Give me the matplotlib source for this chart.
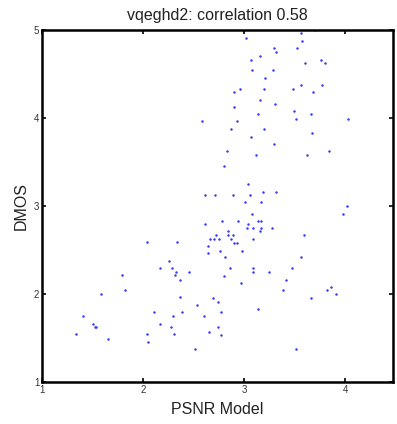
import matplotlib
matplotlib.use("Agg")
import matplotlib.pyplot as plt

plt.rcParams['font.family'] = ['Liberation Sans', 'DejaVu Sans']

title = "vqeghd2: correlation 0.58"
xlabel = "PSNR Model"
ylabel = "DMOS"
xticks = [1, 2, 3, 4]
yticks = [1, 2, 3, 4, 5]

psnr = [3.02, 3.56, 3.57, 3.29, 3.31, 3.52, 3.15, 3.07, 3.60, 3.76,
        3.80, 3.08, 3.28, 3.20, 2.96, 2.90, 3.19, 3.48, 3.56, 3.77,
        3.68, 3.15, 3.30, 2.90, 3.49, 3.13, 3.66, 3.51, 4.02, 2.58,
        2.93, 2.87, 3.19, 3.67, 3.07, 3.29, 2.83, 3.84, 3.12, 3.62,
        2.80, 3.04, 3.18, 3.31, 2.61, 2.71, 2.89, 3.06, 3.01, 3.16,
        4.01, 3.98, 3.08, 2.61, 2.78, 2.94, 3.13, 3.16, 3.04, 3.03,
        3.09, 3.16, 3.27, 2.84, 3.15, 2.72, 2.84, 2.89, 3.59, 2.66,
        2.70, 2.75, 2.87, 3.09, 2.90, 2.93, 2.04, 2.33, 2.64, 2.76,
        2.98, 2.64, 2.81, 3.56, 2.25, 2.17, 2.28, 2.86, 3.09, 3.47,
        2.32, 2.45, 3.09, 3.24, 1.79, 2.31, 2.80, 2.36, 3.41, 2.97,
        3.86, 1.82, 3.38, 3.82, 1.58, 3.91, 2.36, 2.69, 3.66, 2.74,
        2.53, 3.13, 2.11, 2.38, 2.77, 1.40, 2.29, 2.60, 1.50, 2.17,
        1.52, 1.53, 2.27, 2.74, 2.65, 1.34, 2.04, 2.30, 2.77, 1.65,
        2.05, 2.51, 3.51, 3.70]

dmos = [4.91, 4.96, 4.87, 4.79, 4.75, 4.79, 4.70, 4.66, 4.62, 4.66,
        4.62, 4.54, 4.54, 4.45, 4.33, 4.29, 4.33, 4.33, 4.37, 4.37,
        4.29, 4.20, 4.16, 4.12, 4.08, 4.04, 4.04, 3.99, 3.99, 3.96,
        3.96, 3.87, 3.87, 3.83, 3.78, 3.70, 3.62, 3.62, 3.58, 3.58,
        3.45, 3.25, 3.16, 3.16, 3.12, 3.12, 3.12, 3.12, 3.04, 3.04,
        3.00, 2.91, 2.91, 2.79, 2.83, 2.83, 2.83, 2.83, 2.79, 2.75,
        2.75, 2.75, 2.75, 2.71, 2.71, 2.67, 2.67, 2.67, 2.67, 2.62,
        2.62, 2.62, 2.62, 2.62, 2.58, 2.58, 2.59, 2.59, 2.54, 2.49,
        2.49, 2.46, 2.42, 2.42, 2.37, 2.29, 2.29, 2.29, 2.29, 2.29,
        2.25, 2.25, 2.25, 2.25, 2.21, 2.21, 2.20, 2.16, 2.16, 2.12,
        2.08, 2.04, 2.04, 2.04, 2.00, 2.00, 1.96, 1.95, 1.95, 1.91,
        1.87, 1.83, 1.79, 1.79, 1.79, 1.75, 1.75, 1.75, 1.66, 1.66,
        1.62, 1.62, 1.62, 1.62, 1.57, 1.54, 1.54, 1.54, 1.53, 1.49,
        1.45, 1.37, 1.37, 5.00]

fig = plt.figure(figsize=(3.97, 4.24), dpi=100)
ax = fig.add_axes([0.106, 0.099, 0.884, 0.831])
ax.plot(psnr, dmos, linestyle='none', marker='.', markersize=2.6,
        color='#3a3aff', markeredgewidth=0.4, clip_on=True)
ax.set_xlim(1, 4.47)
ax.set_ylim(1, 5)
ax.set_xticks(xticks)
ax.set_yticks(yticks)
ax.set_xticklabels([str(t) for t in xticks])
ax.set_yticklabels([str(t) for t in yticks])
ax.tick_params(direction='in', length=3, width=1.2, labelsize=7,
               top=True, right=True, pad=2, colors='black', labelcolor='#333333')
for s in ax.spines.values():
    s.set_linewidth(1.8)
    s.set_color('black')
ax.set_title(title, fontsize=11.5, pad=7, color='#222222')
ax.set_xlabel(xlabel, fontsize=11.5, labelpad=5, color='#222222')
ax.set_ylabel(ylabel, fontsize=11.5, labelpad=4, color='#222222')
fig.savefig("out.png", dpi=100)
